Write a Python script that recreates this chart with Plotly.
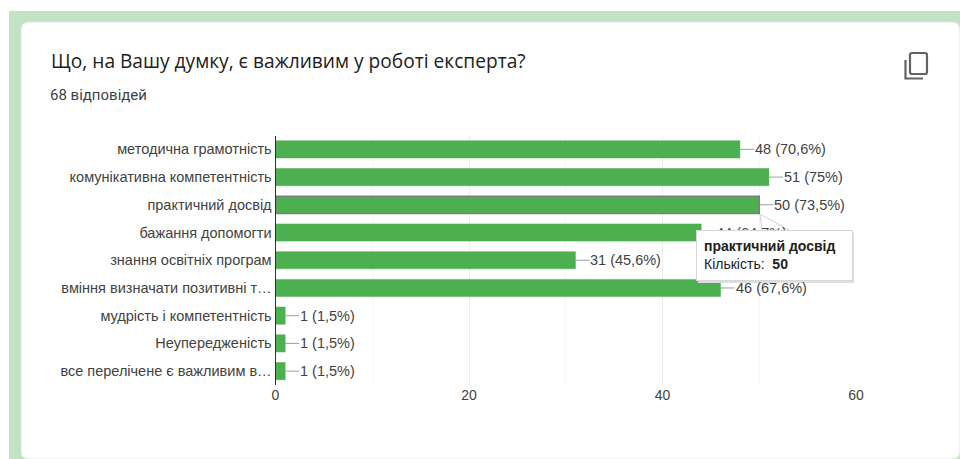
import plotly.graph_objects as go

categories = ["методична грамотність", "комунікативна компетентність", "практичний досвід",
              "бажання допомогти", "знання освітніх програм", "вміння визначати позитивні т…",
              "мудрість і компетентність", "Неупередженість", "все перелічене є важливим в…"]
values = [48, 51, 50, 44, 31, 46, 1, 1, 1]
value_labels = ["48 (70,6%)", "51 (75%)", "50 (73,5%)", "44 (64,7%)", "31 (45,6%)",
                "46 (67,6%)", "1 (1,5%)", "1 (1,5%)", "1 (1,5%)"]
x_ticks = [0, 20, 40, 60]
highlighted = "практичний досвід"
tooltip_text = "<b>практичний досвід</b><br>Кількість:  <b>50</b>"

W, H = 960, 459
GREEN = "#4caf50"
FONT = "Liberation Sans"


def fx(p):
    return p / W


def fy(p):
    return 1 - p / H


PLOT_L, PLOT_R, PLOT_T, PLOT_B = 275.5, 856, 135.5, 385

fig = go.Figure(go.Bar(
    x=values, y=categories, orientation="h", width=0.62,
    marker=dict(color=GREEN,
                line=dict(color=["#7d7d7d" if c == highlighted else GREEN for c in categories],
                          width=[1.5 if c == highlighted else 0.5 for c in categories])),
    hoverinfo="skip", cliponaxis=False,
))

annotations = [
    dict(x=v, y=c, xref="x", yref="y", text=t, showarrow=True, arrowhead=0, arrowwidth=1,
         arrowcolor="#9e9e9e", ax=14, ay=0, xanchor="left", yanchor="middle", standoff=0,
         borderpad=0, font=dict(family=FONT, size=14.5, color="#424242"))
    for c, v, t in zip(categories, values, value_labels)
]
annotations += [
    dict(xref="paper", yref="paper", x=fx(48.5), y=fy(61), xanchor="left", yanchor="middle",
         showarrow=False, text="Що, на Вашу думку, є важливим у роботі експерта?",
         font=dict(family="Open Sans", size=19.15, color="#212121")),
    dict(xref="paper", yref="paper", x=fx(48), y=fy(95.5), xanchor="left", yanchor="middle",
         showarrow=False, text="68 відповідей",
         font=dict(family="Roboto", size=15, color="#424242")),
    dict(xref="paper", yref="paper", x=fx(696), y=fy(230), xanchor="left", yanchor="top",
         showarrow=False, text=tooltip_text, align="left", valign="top", width=141, height=35,
         bgcolor="white", bordercolor="#d6d6d6", borderwidth=1, borderpad=7,
         font=dict(family=FONT, size=14, color="#212121")),
]


def rounded_card(l, t, r, b, rad):
    return (f"M {fx(l)} {fy(t + rad)} Q {fx(l)} {fy(t)} {fx(l + rad)} {fy(t)} "
            f"L {fx(r - rad)} {fy(t)} Q {fx(r)} {fy(t)} {fx(r)} {fy(t + rad)} "
            f"L {fx(r)} {fy(b - rad)} Q {fx(r)} {fy(b)} {fx(r - rad)} {fy(b)} "
            f"L {fx(l + rad)} {fy(b)} Q {fx(l)} {fy(b)} {fx(l)} {fy(b - rad)} Z")


shapes = [
    dict(type="rect", xref="paper", yref="paper", x0=fx(9), x1=fx(960), y0=fy(11), y1=fy(459),
         fillcolor="#c1e3c3", line_width=0, layer="below"),
    dict(type="path", xref="paper", yref="paper", path=rounded_card(21, 22, 960, 459, 8),
         fillcolor="white", line=dict(color="#dfe6df", width=1), layer="below"),
    # tooltip shadow
    dict(type="rect", xref="paper", yref="paper", x0=fx(698), x1=fx(854), y0=fy(233), y1=fy(283),
         fillcolor="#dedede", line_width=0, layer="above"),
    # tooltip pointer
    dict(type="path", xref="paper", yref="paper",
         path=f"M {fx(760)} {fy(214)} L {fx(790)} {fy(230.5)} L {fx(762)} {fy(230.5)} Z",
         fillcolor="white", line=dict(color="#d0d0d0", width=1), layer="above"),
    # copy icon
    dict(type="path", xref="paper", yref="paper",
         path=rounded_card(910, 53, 927, 74, 2),
         fillcolor="rgba(0,0,0,0)", line=dict(color="#5f6368", width=2.2), layer="above"),
    dict(type="path", xref="paper", yref="paper",
         path=f"M {fx(905.5)} {fy(60)} L {fx(905.5)} {fy(78.5)} L {fx(923)} {fy(78.5)}",
         line=dict(color="#5f6368", width=2.2), layer="above"),
]

fig.update_layout(
    width=W, height=H, margin=dict(l=0, r=0, t=0, b=0, autoexpand=False),
    paper_bgcolor="white", plot_bgcolor="rgba(0,0,0,0)", showlegend=False,
    font=dict(family=FONT, size=14, color="#424242"),
    annotations=annotations, shapes=shapes,
    xaxis=dict(domain=[fx(PLOT_L), fx(PLOT_R)], range=[0, 60], tickvals=x_ticks,
               showgrid=True, gridcolor="#ececec", gridwidth=1, zeroline=False, showline=False,
               minor=dict(dtick=10, showgrid=True, gridcolor="#f5f5f5", gridwidth=1),
               ticks="", tickfont=dict(family=FONT, size=14, color="#424242"),
               anchor="y"),
    yaxis=dict(domain=[fy(PLOT_B), fy(PLOT_T)], categoryorder="array", categoryarray=categories,
               autorange="reversed", showgrid=False, zeroline=False,
               showline=True, linecolor="#333333", linewidth=1,
               ticks="", tickfont=dict(family=FONT, size=14.5, color="#424242"),
               anchor="x"),
)

fig.write_html("out.html", config=dict(displayModeBar=False),
               post_script="document.body.style.margin='0';document.body.style.overflow='hidden';")
